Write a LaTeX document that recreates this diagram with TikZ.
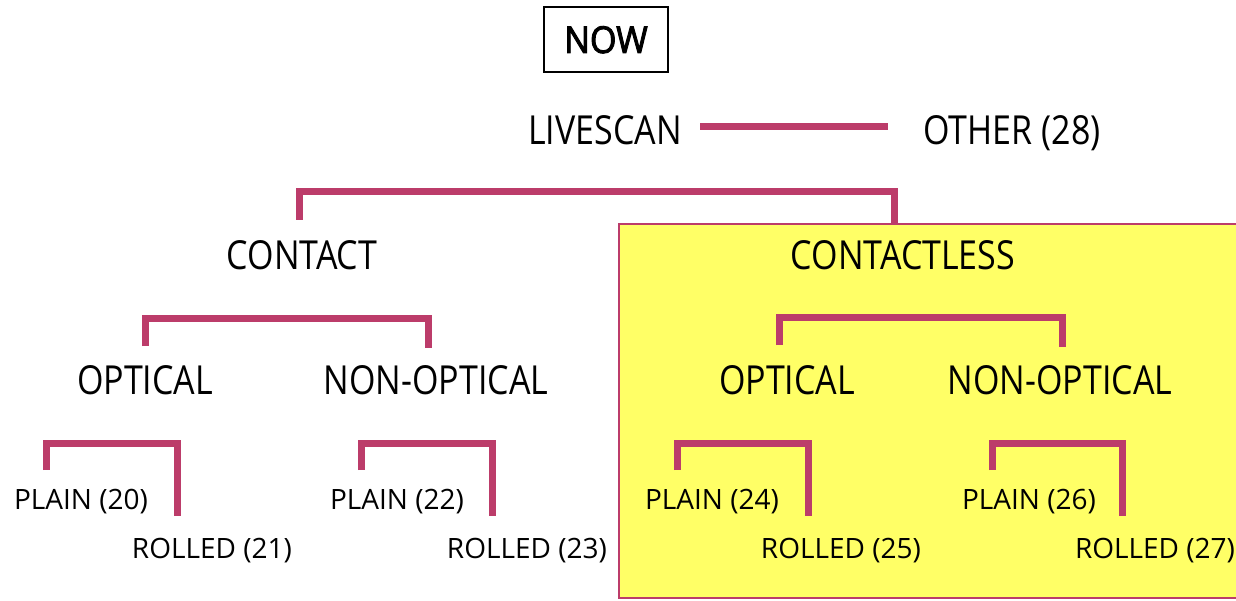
\documentclass[tikz,border=0pt]{standalone}
\usepackage{fontspec}
\setmainfont{Open Sans}
\newfontfamily\bigf[FakeStretch=0.85]{Open Sans}
\newfontfamily\nowf[FakeStretch=0.92,FakeBold=2.5]{Open Sans}
\definecolor{brc}{RGB}{188,60,106}
\definecolor{yel}{RGB}{255,255,102}
\tikzset{
  br/.style={draw=brc, line width=7pt, line join=miter},
  bigl/.style={font=\bigf\fontsize{40}{48}\selectfont, anchor=base, inner sep=0pt},
  smalll/.style={font=\fontsize{28}{34}\selectfont, anchor=base, inner sep=0pt},
}
\begin{document}
\begin{tikzpicture}[x=1pt,y=-1pt]
\useasboundingbox (0,0) rectangle (1236,601);
% yellow box
\draw[draw=brc, line width=2pt, fill=yel] (619,224) rectangle (1240,598);
% NOW
\draw[line width=2pt] (544,7) rectangle (668,72);
\node[font=\nowf\fontsize{37}{44}\selectfont, anchor=base, inner sep=0pt] (now) at (606,53) {NOW};
% level 1
\node[bigl] (live) at (605,145) {LIVESCAN};
\node[bigl] (other) at (1012,145) {OTHER (28)};
\coordinate (l1a) at (700,127);
\coordinate (l1b) at (888,127);
\draw[br] (l1a) -- (l1b);
% level 2
\node[bigl] (contact) at (302,270) {CONTACT};
\node[bigl] (cless) at (903,270) {CONTACTLESS};
\coordinate (b1l) at (299,220);
\coordinate (b1r) at (894,224);
\draw[br] (b1l) -- (299,192) -- (894,192) -- (b1r);
% level 3
\node[bigl] (opt1) at (145,394) {OPTICAL};
\node[bigl] (nopt1) at (436,394) {NON-OPTICAL};
\node[bigl] (opt2) at (787,394) {OPTICAL};
\node[bigl] (nopt2) at (1060,394) {NON-OPTICAL};
\coordinate (b2l) at (145,346);
\coordinate (b2r) at (428,348);
\draw[br] (b2l) -- (145,319) -- (428,319) -- (b2r);
\coordinate (b3l) at (779,345);
\coordinate (b3r) at (1062,347);
\draw[br] (b3l) -- (779,318) -- (1062,318) -- (b3r);
% level 4
\node[smalll] (p20) at (81,509) {PLAIN (20)};
\node[smalll] (r21) at (212,558) {ROLLED (21)};
\node[smalll] (p22) at (397,509) {PLAIN (22)};
\node[smalll] (r23) at (527,558) {ROLLED (23)};
\node[smalll] (p24) at (712,509) {PLAIN (24)};
\node[smalll] (r25) at (841,558) {ROLLED (25)};
\node[smalll] (p26) at (1029,509) {PLAIN (26)};
\node[smalll] (r27) at (1155,558) {ROLLED (27)};
\coordinate (c1l) at (46,470); \coordinate (c1r) at (177,516);
\draw[br] (c1l) -- (46,443) -- (177,443) -- (c1r);
\coordinate (c2l) at (361,470); \coordinate (c2r) at (492,516);
\draw[br] (c2l) -- (361,443) -- (492,443) -- (c2r);
\coordinate (c3l) at (677,470); \coordinate (c3r) at (808,516);
\draw[br] (c3l) -- (677,443) -- (808,443) -- (c3r);
\coordinate (c4l) at (992,470); \coordinate (c4r) at (1122,516);
\draw[br] (c4l) -- (992,443) -- (1122,443) -- (c4r);
\end{tikzpicture}
\end{document}
